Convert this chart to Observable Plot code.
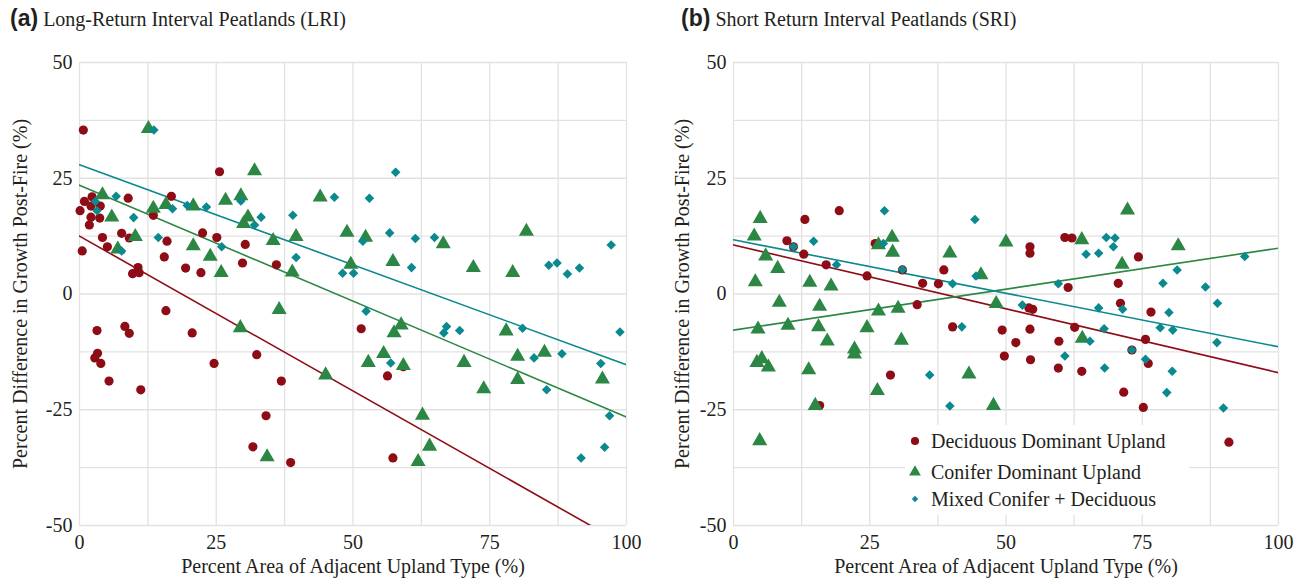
<!DOCTYPE html>
<html><head><meta charset="utf-8">
<script src="https://cdn.jsdelivr.net/npm/d3@7"></script>
<script src="https://cdn.jsdelivr.net/npm/@observablehq/plot@0.6"></script>
<style>
body{margin:0;background:#fff;}
#wrap{position:relative;width:1297px;height:584px;overflow:hidden;background:#fff;}
.title{position:absolute;top:4px;white-space:nowrap;font-family:"Liberation Serif","DejaVu Serif","Noto Serif",Tinos,serif;font-size:20px;color:#231f20;line-height:28px;}
.title b{font-family:"Liberation Sans",Arial,sans-serif;font-weight:bold;font-size:23px;}
.plot{position:absolute;top:40px;}
#legend{position:absolute;left:905px;top:425px;}
</style></head>
<body><div id="wrap">
<div class="title" style="left:10px"><b>(a)</b> Long-Return Interval Peatlands (LRI)</div>
<div class="title" style="left:681px"><b>(b)</b> Short Return Interval Peatlands (SRI)</div>
<div class="plot" id="pa" style="left:0px"></div>
<div class="plot" id="pb" style="left:648px"></div>
<div id="legend"></div>
</div>
<script>
// ---- data (x = % area of adjacent upland type, y = % difference in growth post-fire)
const seriesNames = ["Deciduous Dominant Upland", "Conifer Dominant Upland", "Mixed Conifer + Deciduous"];
const seriesColors = ["#8e0c16", "#2c8744", "#0a898e"];
const xLabel = "Percent Area of Adjacent Upland Type (%)";
const yLabel = "Percent Difference in Growth Post-Fire (%)";
const xTicks = [0, 25, 50, 75, 100];
const yTicks = [-50, -25, 0, 25, 50];
const gridX = [0, 12.5, 25, 37.5, 50, 62.5, 75, 87.5, 100];
const gridY = [-50, -37.5, -25, -12.5, 0, 12.5, 25, 37.5, 50];

const lriDeciduous = [[0.7,35.4],[25.6,26.4],[0.9,20],[2.3,21],[0.1,18],[2.1,19],[3.8,19],[2.1,16.6],[3.7,16.4],[1.8,14.9],[8.9,20.7],[16.8,21.1],[13.5,17],[4.2,12.2],[7.7,13.1],[9.1,12.1],[5.1,10.2],[0.5,9.3],[16.0,11.4],[15.5,8.0],[10.7,5.7],[9.7,4.4],[10.9,4.6],[19.4,5.6],[22.2,4.6],[22.5,13.2],[25.1,12.2],[30.3,10.7],[29.8,6.7],[36.0,6.3],[15.8,-3.6],[3.2,-7.9],[8.3,-7.0],[9.1,-8.5],[20.6,-8.4],[3.3,-12.8],[2.8,-13.8],[3.9,-15.0],[5.4,-18.8],[11.2,-20.7],[24.6,-15.0],[32.4,-13.1],[34.1,-26.3],[31.7,-33.0],[51.5,-7.5],[36.9,-18.8],[38.6,-36.4],[56.3,-17.7],[59.2,-15.7],[57.3,-35.4]];
const lriConifer = [[12.6,35.7],[32.0,26.6],[4.2,21.4],[13.5,18.5],[15.8,19.3],[20.8,19.0],[26.7,20.2],[29.5,21.2],[30.0,15.2],[30.8,16.6],[5.9,16.6],[10.2,12.4],[7.0,9.7],[20.8,10.4],[23.9,8.1],[25.9,4.6],[44.0,20.9],[35.4,11.5],[39.6,12.4],[48.9,13.3],[52.3,12.2],[66.5,10.8],[38.9,4.7],[49.6,6.4],[57.3,7.0],[36.5,-3.4],[29.4,-7.3],[34.3,-35.2],[58.8,-6.7],[57.5,-8.4],[55.6,-12.9],[52.8,-14.8],[59.2,-15.5],[45.0,-17.5],[62.7,-26.2],[64.0,-32.9],[61.9,-36.2],[81.7,13.5],[72.0,5.7],[79.2,4.6],[78.0,-8.0],[70.3,-14.8],[80.1,-13.5],[85.0,-12.6],[80.1,-18.5],[73.9,-20.5],[95.6,-18.4]];
const lriMixed = [[13.6,35.4],[6.7,21.1],[2.9,20],[3.2,18],[9.9,16.5],[17.0,18.4],[19.7,19.1],[23.2,18.8],[29.5,20.1],[33.2,16.6],[32.0,14.9],[14.4,12.2],[26.0,10.2],[7.7,9.3],[57.8,26.3],[46.6,20.9],[53.0,20.7],[39.0,17.0],[56.7,13.2],[61.4,12.0],[64.9,12.2],[51.8,11.4],[39.6,7.9],[60.7,5.7],[48.1,4.5],[50.1,4.5],[52.4,-3.7],[56.9,-14.9],[67.1,-7.0],[66.6,-8.4],[69.5,-7.9],[85.8,6.2],[87.3,6.7],[89.2,4.3],[91.4,5.6],[97.2,10.6],[81.0,-7.4],[98.8,-8.2],[83.1,-13.8],[88.2,-12.9],[95.3,-15.0],[85.4,-20.7],[96.9,-26.3],[96.0,-33.1],[91.7,-35.4]];

const sriDeciduous = [[19.4,18.0],[13.1,16.1],[9.8,11.5],[11.0,10.2],[12.9,8.6],[17.0,6.3],[24.5,3.9],[26.0,10.9],[31.0,5.2],[34.7,2.3],[37.6,2.2],[33.7,-2.3],[28.8,-17.5],[15.8,-24.1],[38.6,5.2],[54.4,10.2],[54.4,8.8],[60.8,12.2],[62.1,12.1],[61.4,1.4],[54.2,-3.0],[54.9,-3.3],[40.2,-7.1],[49.3,-7.8],[54.4,-7.6],[62.6,-7.2],[51.8,-10.5],[59.7,-10.2],[49.7,-13.4],[54.5,-14.2],[59.6,-16.0],[63.9,-16.7],[74.3,8.0],[70.6,2.3],[71.0,-2.0],[76.6,-3.9],[75.6,-9.8],[73.1,-12.1],[76.1,-15.0],[71.6,-21.2],[75.2,-24.5],[90.9,-32.0]];
const sriConifer = [[4.9,16.3],[3.8,12.5],[5.9,8.2],[8.1,5.5],[4.0,2.6],[14.0,2.5],[17.9,1.7],[29.1,12.2],[26.6,10.6],[29.2,9.0],[8.4,-1.8],[15.8,-2.7],[26.6,-3.7],[30.2,-3.1],[4.5,-7.6],[10.0,-6.8],[15.6,-7.1],[24.5,-7.3],[17.2,-10.2],[30.8,-10.0],[4.3,-14.8],[5.2,-14.0],[6.4,-15.8],[22.2,-11.9],[22.2,-13.0],[13.8,-16.4],[26.4,-20.9],[15.0,-24.1],[4.8,-31.7],[50.0,11.2],[63.9,11.7],[39.7,8.8],[45.4,4.1],[48.2,-2.1],[64.0,-9.6],[43.2,-17.3],[47.7,-24.1],[72.3,18.1],[81.6,10.4],[71.3,6.4]];
const sriMixed = [[27.7,18.0],[14.7,11.4],[11.0,10.2],[27.5,10.9],[18.9,6.3],[31.0,5.3],[36.0,-17.5],[44.3,16.1],[44.5,3.9],[40.2,2.2],[59.6,2.2],[41.9,-7.1],[53.0,-2.4],[64.7,8.6],[67.0,8.8],[68.4,12.2],[70.0,12.1],[69.7,10.2],[67.0,-3.0],[68.0,-7.5],[65.4,-10.2],[60.8,-13.4],[68.1,-16.0],[39.7,-24.2],[93.8,8.1],[81.4,5.2],[78.8,2.3],[86.6,1.5],[88.8,-2.0],[71.4,-3.3],[79.9,-4.0],[78.3,-7.3],[80.6,-7.8],[88.7,-10.5],[73.1,-12.1],[75.6,-14.1],[80.5,-16.7],[79.5,-21.3],[89.9,-24.6]];

// regression fits: [intercept, slope] per series (deciduous, conifer, mixed)
const lriFits = [[12.5, -0.669], [23.5, -0.501], [27.9, -0.432]];
const sriFits = [[10.6, -0.276], [-7.8, 0.177], [11.7, -0.231]];

const symbols = ["circle", "triangle", "diamond2"];
const radii = [4.6, 5.6, 4.3];
const serifFont = '"Liberation Serif","DejaVu Serif","Noto Serif",Tinos,serif';

function toRows(arr){ return arr.map(([x,y]) => ({x, y})); }

function panel(groups, fits, cfg){
  const fitRows = [];
  fits.forEach(([b, m], i) => [0, 100].forEach(x => fitRows.push({x, y: b + m * x, s: i})));
  const marks = [
    Plot.gridX({ticks: gridX, stroke: "#e2e2e2", strokeOpacity: 1, strokeWidth: 1.3}),
    Plot.gridY({ticks: gridY, stroke: "#e2e2e2", strokeOpacity: 1, strokeWidth: 1.3}),
    Plot.axisX({ticks: xTicks, tickSize: 0, tickPadding: 9, label: null, tickFormat: d => String(d)}),
    Plot.axisY({ticks: yTicks, tickSize: 0, tickPadding: 7, label: null, tickFormat: d => String(d)}),
    Plot.text([xLabel], {frameAnchor: "bottom", textAnchor: "middle", dy: 47, fill: "#231f20"}),
    Plot.text([yLabel], {frameAnchor: "left", textAnchor: "middle", dx: -cfg.yLabelOffset, rotate: -90, fill: "#231f20"})
  ];
  [0, 1, 2].forEach(i => {
    marks.push(Plot.line(fitRows.filter(d => d.s === i), {x: "x", y: "y", stroke: seriesColors[i], strokeWidth: 1.6, clip: true}));
  });
  groups.forEach((g, i) => {
    marks.push(Plot.dot(toRows(g), {x: "x", y: "y", symbol: symbols[i], r: radii[i], fill: seriesColors[i], stroke: "none"}));
  });
  return Plot.plot({
    width: cfg.width, height: 544,
    marginLeft: cfg.ml, marginRight: cfg.mr, marginTop: 22, marginBottom: 59,
    style: {fontFamily: serifFont, fontSize: "20px", color: "#231f20", background: "transparent", overflow: "visible"},
    x: {domain: [0, 100]},
    y: {domain: [-50, 50]},
    marks
  });
}

document.getElementById("pa").appendChild(panel([lriDeciduous, lriConifer, lriMixed], lriFits, {width: 648, ml: 79, mr: 22, yLabelOffset: 59}));
document.getElementById("pb").appendChild(panel([sriDeciduous, sriConifer, sriMixed], sriFits, {width: 649, ml: 85, mr: 19, yLabelOffset: 51}));

// legend (panel b, inside plot area)
const lg = d3.select("#legend").append("svg").attr("width", 284).attr("height", 90)
  .style("font-family", serifFont).style("font-size", "20px");
lg.append("rect").attr("width", 284).attr("height", 90).attr("fill", "#fff");
const rowsY = [16, 47, 74];
const legSym = [d3.symbolCircle, d3.symbolTriangle, d3.symbolSquare];
const legSize = [52, 60, 20];
seriesNames.forEach((name, i) => {
  const g = lg.append("g").attr("transform", `translate(10,${rowsY[i]})`);
  g.append("path").attr("d", d3.symbol(legSym[i], legSize[i])()).attr("fill", seriesColors[i])
    .attr("transform", i === 2 ? "rotate(45)" : null);
  lg.append("text").attr("x", 26).attr("y", rowsY[i]).attr("dy", "0.35em").attr("fill", "#231f20").text(name);
});
</script>
</body></html>
